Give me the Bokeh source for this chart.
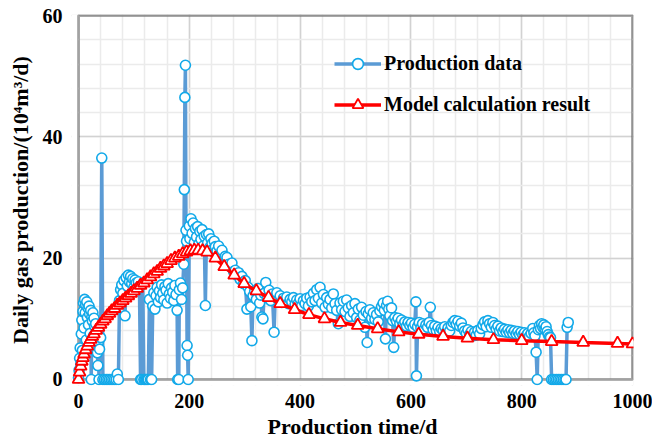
from bokeh.plotting import figure
from bokeh.models import (Range1d, SingleIntervalTicker, BoxAnnotation, Legend,
                          LegendItem)
from bokeh.embed import file_html
from bokeh.resources import INLINE

# ---------------- data ----------------
prod_day = [
    0, 1, 2, 3, 4, 5, 6, 7, 8, 9, 10, 11, 12, 13, 14, 15, 16, 17, 18, 19,
    20, 21, 22, 23, 24, 25, 26, 27, 28, 29, 30, 31, 32, 33, 34, 35, 36, 37, 38, 40,
    42, 44, 47, 50, 53, 56, 59, 62, 65, 68, 70, 72,
    74, 76, 78, 80, 82, 84, 86, 88, 90, 92, 94, 96, 98, 100, 102, 104, 106, 108, 110,
    112, 114, 116, 118, 120, 122, 124, 126, 128, 130, 132,
    134, 136, 138, 140, 142, 144, 146, 148, 150, 152, 154, 156, 158, 160, 162, 164,
    166, 168, 170, 172, 174, 176, 178, 179, 181, 182, 184, 186, 188,
    190, 191, 192, 193, 194, 195, 196, 197, 198,
    200, 201, 203, 205, 207, 209, 211, 213, 215, 217, 219, 221, 223, 225, 227, 229,
    231, 233, 235, 237, 239, 241, 243, 245, 247,
    250, 253, 256, 259, 262, 265, 268, 271, 274, 277, 280, 283, 286, 289, 292, 295,
    298, 301, 304, 306, 309, 311, 313, 315, 318, 321, 324, 327, 329, 331, 333, 335,
    338, 341, 344, 347, 350, 353, 355, 358, 361, 364, 367, 370, 373, 376, 379, 382,
    385, 388, 391, 394, 397, 400, 403, 406, 409, 412, 415, 418, 421, 424, 427, 430,
    433, 436, 439, 442, 445, 448, 451, 454, 457, 460, 463, 466, 469, 472, 475, 478,
    481, 484, 487, 490, 493, 496, 499, 502, 505, 508, 511, 514, 517, 519, 521, 523,
    526, 529, 532, 535, 538, 541, 544, 547, 550, 552, 554, 556, 558, 560, 562, 565,
    567, 569, 571, 574, 577, 580, 583, 586, 589, 592, 595, 598, 601, 604, 607, 609,
    610, 612, 615, 618, 621, 624, 627, 630, 633, 635, 637, 640, 643, 646, 649, 652,
    655, 658, 661, 664, 667, 670, 673, 676, 679, 682, 685, 688, 691, 694, 697, 700,
    703, 706, 709, 712, 715, 718, 721, 724, 727, 730, 733, 736, 739, 742, 745, 748,
    751, 754, 757, 760, 763, 766, 769, 772, 775, 778, 781, 784, 787, 790, 793, 796,
    799, 802, 805, 808, 811, 814, 817, 820, 822, 824, 826, 828, 830, 832, 834, 836,
    838, 840, 842, 844, 846, 848, 850, 852, 854, 857, 860, 863, 866, 869, 872, 875,
    878, 880, 882, 884,
]
prod_val = [
    0.3, 1.5, 3.5, 5.2, 2.5, 7.5, 9.8, 4.8, 11.2, 12.6, 8.5, 13.2, 11.0, 12.3, 6.5, 12.8, 10.2, 11.8, 9.0, 12.1,
    10.8, 7.6, 11.4, 0.0, 10.3, 9.6, 11.0, 7.2, 10.1, 8.8, 5.8, 9.2, 4.6, 7.5, 4.4, 2.3, 6.2, 0.0, 5.0, 6.9,
    36.5, 0.0, 0.0, 0.0, 0.0, 0.0, 0.0, 0.0, 0.0, 0.0, 0.9, 0.0,
    13.0, 14.8, 15.6, 14.2, 16.3, 10.5, 16.8, 15.4, 17.2, 16.1, 17.0, 15.8, 16.6, 15.2, 16.4, 15.9, 14.8, 16.1, 15.3,
    0.0, 0.0, 15.8, 0.0, 0.0, 0.0, 0.0, 0.0, 13.2, 0.0, 0.0,
    12.1, 14.3, 11.6, 13.8, 15.2, 12.8, 14.6, 13.5, 15.6, 14.2, 13.1, 15.3, 14.7, 12.6, 15.8, 14.1,
    13.4, 15.1, 14.4, 13.0, 15.5, 14.0, 11.4, 0.0, 0.0, 14.8, 15.9, 13.2, 15.1,
    19.0, 31.3, 46.5, 51.8, 24.6, 22.8, 5.6, 4.0, 0.0,
    25.3, 23.2, 26.5, 24.1, 25.8, 22.6, 24.9, 23.5, 25.2, 22.3, 24.4, 23.1, 24.7, 22.0, 23.6, 12.2,
    23.9, 22.5, 24.0, 21.8, 23.2, 22.4, 21.5, 22.8, 21.9,
    21.2, 22.0, 20.6, 21.3, 19.8, 20.3, 20.1, 19.0, 18.6, 19.2, 17.8, 18.0, 17.2, 17.6, 16.5, 17.0,
    15.8, 16.3, 11.6, 15.2, 14.5, 12.0, 6.4, 13.8, 14.6, 13.2, 15.0, 12.6, 13.9, 10.3, 10.0, 14.2,
    16.0, 13.5, 14.7, 13.0, 14.1, 7.8, 13.6, 14.3, 13.1, 13.8, 12.7, 13.4, 12.9, 13.6, 12.5, 13.2,
    12.8, 13.5, 12.4, 13.1, 12.6, 13.3, 12.2, 13.0, 12.5, 13.4, 12.1, 13.6, 12.8, 14.2, 13.0, 14.8,
    13.4, 15.2, 12.6, 14.0, 11.9, 13.5, 12.4, 13.2, 11.8, 14.1, 12.5, 11.4, 9.2, 12.6, 11.5, 12.9,
    11.2, 13.1, 11.8, 10.4, 12.2, 11.0, 12.5, 10.2, 11.6, 9.8, 11.9, 10.6, 8.6, 11.2, 6.1, 10.8,
    11.5, 10.1, 11.0, 9.9, 10.7, 9.5, 11.3, 12.0, 12.6, 11.4, 6.7, 12.2, 12.9, 11.6, 10.5, 11.8,
    9.7, 5.3, 10.2, 9.6, 10.1, 9.2, 9.8, 9.0, 9.5, 8.8, 9.4, 8.9, 9.3, 8.6, 9.1, 12.8,
    0.6, 8.7, 9.4, 8.5, 9.2, 8.3, 9.0, 8.6, 9.4, 11.9, 8.9, 8.2, 8.8, 8.0, 8.6, 7.9,
    8.4, 8.1, 8.7, 7.8, 8.5, 8.0, 8.9, 9.4, 9.7, 9.1, 9.6, 8.8, 9.3, 8.5, 8.0, 7.6,
    8.2, 7.4, 7.9, 7.2, 7.8, 7.3, 8.1, 7.5, 8.4, 9.0, 9.5, 8.7, 9.7, 9.2, 8.6, 9.4,
    8.9, 8.3, 8.8, 8.0, 8.5, 7.9, 8.3, 7.8, 8.2, 7.7, 8.1, 7.6, 8.0, 7.5, 7.9, 7.4,
    7.8, 7.3, 7.7, 7.2, 7.6, 7.1, 7.6, 8.4, 7.7, 7.2, 4.5, 0.0, 8.2, 8.9, 8.4, 9.2,
    8.6, 9.0, 8.3, 8.7, 7.9, 7.4, 7.0, 6.9, 0.0, 0.0, 0.0, 0.0, 0.0, 0.0, 0.0, 0.0,
    0.0, 0.0, 8.6, 9.4,
]

model_day = [
    0, 2, 4, 6, 8, 10, 13, 16, 19, 22, 25, 28, 32, 36, 40, 44, 48, 52, 56, 60,
    65, 70, 75, 80, 85, 90, 95, 100, 106, 112, 118, 124, 130, 136, 142, 148, 154,
    160, 167, 174, 181, 188, 195, 202, 209, 216, 224, 232, 247, 263, 281, 299, 321,
    343, 364, 390, 416, 444, 473, 504, 540, 578, 614, 658, 702, 749, 800, 854, 911,
    973, 1000,
]
model_val = [
    0.0, 1.2, 2.2, 3.0, 3.6, 4.2, 4.9, 5.5, 6.1, 6.6, 7.1, 7.5, 8.1, 8.6, 9.1, 9.6,
    10.0, 10.5, 10.9, 11.3, 11.7, 12.2, 12.6, 13.0, 13.4, 13.8, 14.2, 14.6, 15.0,
    15.5, 15.9, 16.4, 16.9, 17.4, 17.8, 18.3, 18.7, 19.1, 19.6, 20.0, 20.3, 20.7,
    21.0, 21.2, 21.3, 21.3, 21.2, 21.0, 20.0, 18.6, 17.2, 15.8, 14.6, 13.5, 12.5,
    11.5, 10.7, 10.0, 9.4, 8.9, 8.35, 7.85, 7.45, 7.1, 6.8, 6.55, 6.4, 6.25, 6.1,
    5.95, 5.85,
]

x_tick_step = 200
y_tick_step = 20
x_lim = (0, 1000)
y_lim = (0, 60)

FONT = "Liberation Serif"

p = figure(width=652, height=444, output_backend="svg", toolbar_location=None,
           x_range=Range1d(-12.64, 1001.8), y_range=Range1d(-0.99, 60.165),
           min_border_left=71, min_border_right=19, min_border_top=14,
           min_border_bottom=59)
p.outline_line_color = None
p.background_fill_color = "white"
p.border_fill_color = "white"

xt = SingleIntervalTicker(interval=x_tick_step, num_minor_ticks=5)
yt = SingleIntervalTicker(interval=y_tick_step, num_minor_ticks=5)
p.xaxis.ticker = xt
p.yaxis.ticker = yt
p.xgrid.ticker = xt
p.ygrid.ticker = yt

for g in (p.xgrid, p.ygrid):
    g.grid_line_color = "#D2D2D2"
    g.grid_line_width = 1.5
    g.minor_grid_line_color = "#EBEBEB"
    g.minor_grid_line_width = 1.5

for ax in (p.xaxis, p.yaxis):
    ax.axis_line_color = None
    ax.major_tick_line_color = None
    ax.minor_tick_line_color = None
    ax.major_tick_in = 0
    ax.major_tick_out = 0
    ax.minor_tick_in = 0
    ax.minor_tick_out = 0
    ax.major_label_text_font = FONT
    ax.major_label_text_font_style = "bold"
    ax.major_label_text_font_size = "20px"
    ax.major_label_text_color = "black"
    ax.axis_label_text_font = FONT
    ax.axis_label_text_font_style = "bold"
    ax.axis_label_text_font_size = "22px"
    ax.axis_label_text_color = "black"

p.xaxis.major_label_standoff = 8
p.xaxis.axis_label = "Production time/d"
p.xaxis.axis_label_standoff = 3

p.yaxis.major_label_standoff = 9
p.yaxis.axis_label = "Daily gas production/(10\u2074m\u00b3/d)"
p.yaxis.axis_label_standoff = 7

# white cover for grid stubs outside the axes
p.add_layout(BoxAnnotation(right=x_lim[0], fill_color="white", fill_alpha=1,
                           line_color=None, level="underlay"))
p.add_layout(BoxAnnotation(top=y_lim[0], fill_color="white", fill_alpha=1,
                           line_color=None, level="underlay"))
# plot-area border
p.add_layout(BoxAnnotation(left=x_lim[0], right=x_lim[1], bottom=y_lim[0], top=y_lim[1],
                           fill_alpha=0, line_color="black", line_width=3,
                           level="underlay"))

l1 = p.line(prod_day, prod_val, line_color="#5B9BD5", line_width=3.5)
s1 = p.scatter(prod_day, prod_val, marker="circle", size=10, line_color="#12A9E9",
               fill_color="white", line_width=1.6)
l2 = p.line(model_day, model_val, line_color="#FF0000", line_width=3.5)
s2 = p.scatter(model_day, model_val, marker="triangle", size=12, line_color="#FF0000",
               fill_color="white", line_width=1.8)

legend = Legend(items=[LegendItem(label="Production data", renderers=[l1, s1]),
                       LegendItem(label="Model calculation result", renderers=[l2, s2])],
                location=(263, 267), glyph_width=47, glyph_height=27, label_height=20,
                label_standoff=3, spacing=14, padding=5, margin=0,
                border_line_color=None, background_fill_alpha=0,
                label_text_font=FONT, label_text_font_style="bold",
                label_text_font_size="20px", label_text_color="black")
p.add_layout(legend)

open("out.html", "w").write(file_html(p, INLINE))
